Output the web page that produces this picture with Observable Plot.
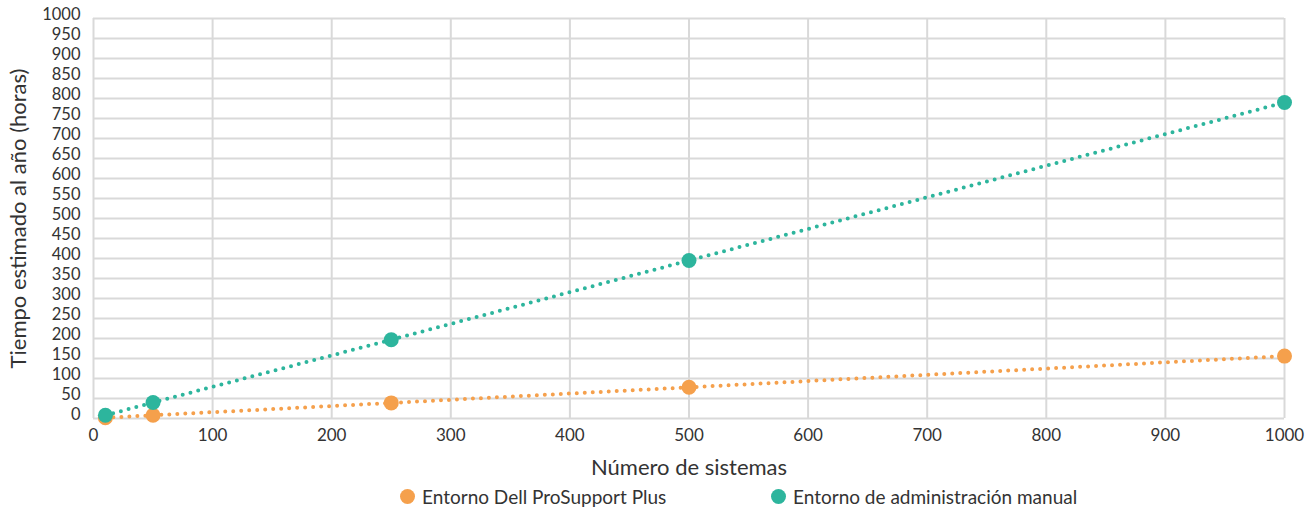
<!DOCTYPE html>
<html>
<head>
<meta charset="utf-8">
<script src="https://cdn.jsdelivr.net/npm/d3@7"></script>
<script src="https://cdn.jsdelivr.net/npm/@observablehq/plot@0.6"></script>
<style>
  body { margin: 0; background: #fff; font-family: Lato, "Open Sans", sans-serif; }
  #chart svg { display: block; }
  .legend { position: relative; height: 30px; font-size: 19px; color: #333; }
  .legend .item { position: absolute; top: 3px; display: flex; align-items: center; white-space: nowrap; }
  .legend .sw { width: 15px; height: 15px; border-radius: 50%; margin-right: 7px; }
</style>
</head>
<body>
<div id="chart"></div>
<script>
// Systems counted and estimated yearly hours for each environment
const systems = [10, 50, 250, 500, 1000];
const prosupportHours = [2, 8, 39, 78, 156];
const manualHours = [8, 40, 197, 395, 790];
const seriesNames = ["Entorno Dell ProSupport Plus", "Entorno de administración manual"];
const seriesColors = ["#f5a04c", "#2db59d"];
const xTicks = [0, 100, 200, 300, 400, 500, 600, 700, 800, 900, 1000];
const yTicks = d3.range(0, 1001, 50);

const rows = [
  ...systems.map((s, i) => ({series: seriesNames[0], x: s, y: prosupportHours[i]})),
  ...systems.map((s, i) => ({series: seriesNames[1], x: s, y: manualHours[i]}))
];

const chart = Plot.plot({
  width: 1311,
  height: 482,
  marginLeft: 93,
  marginRight: 27,
  marginTop: 18,
  marginBottom: 64,
  style: {fontFamily: "Lato, sans-serif", fontSize: "17px", color: "#333"},
  x: {domain: [0, 1000]},
  y: {domain: [0, 1000]},
  color: {domain: seriesNames, range: seriesColors},
  marks: [
    Plot.gridX(xTicks, {stroke: "#d9d9d9", strokeOpacity: 1, strokeWidth: 2}),
    Plot.gridY(yTicks, {stroke: "#d9d9d9", strokeOpacity: 1, strokeWidth: 2}),
    Plot.axisX({ticks: xTicks, tickFormat: d => String(d), tickSize: 0, tickPadding: 10, fontSize: 17,
      label: "Número de sistemas", labelAnchor: "center", labelArrow: "none", labelOffset: 56}),
    Plot.axisY({ticks: yTicks, tickFormat: d => String(d), tickSize: 0, tickPadding: 13, dy: -4, fontSize: 16.5,
      label: "Tiempo estimado al año (horas)", labelAnchor: "center", labelArrow: "none", labelOffset: 83}),
    Plot.line(rows, {x: "x", y: "y", z: "series", stroke: "series", strokeWidth: 4,
      strokeDasharray: "0,8", strokeLinecap: "round"}),
    Plot.dot(rows, {x: "x", y: "y", fill: "series", r: 7.5})
  ]
});

// Enlarge the axis titles
chart.querySelectorAll("[aria-label='x-axis label'] text, [aria-label='y-axis label'] text")
  .forEach(t => t.setAttribute("font-size", "22px"));

document.getElementById("chart").append(chart);

const legend = document.createElement("div");
legend.className = "legend";
const legendX = [400, 771];
seriesNames.forEach((name, i) => {
  const item = document.createElement("div");
  item.className = "item";
  item.style.left = legendX[i] + "px";
  item.innerHTML = `<span class="sw" style="background:${seriesColors[i]}"></span><span>${name}</span>`;
  legend.append(item);
});
document.body.append(legend);
</script>
</body>
</html>
